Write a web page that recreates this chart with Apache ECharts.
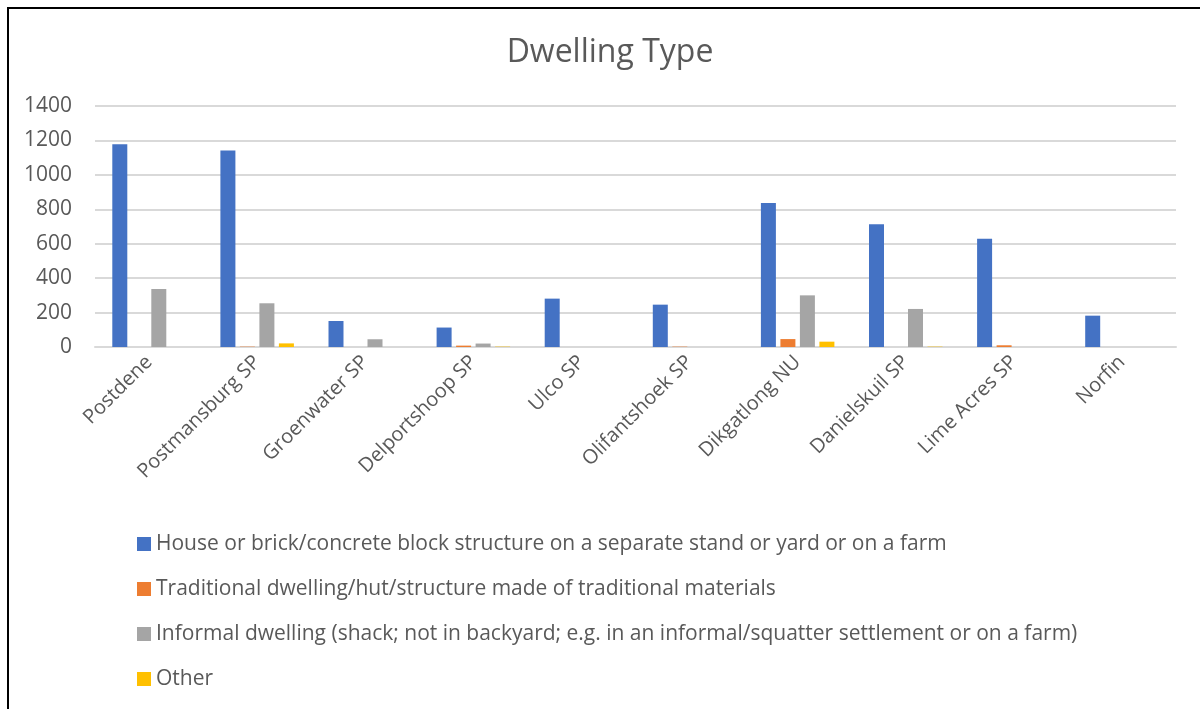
<!DOCTYPE html>
<html>
<head>
<meta charset="utf-8">
<script src="https://cdn.jsdelivr.net/npm/echarts@6/dist/echarts.min.js"></script>
<style>
  html, body { margin: 0; padding: 0; background: #fff; }
  #frame { position: absolute; left: 7px; top: 7px; width: 1300px; height: 800px;
           border-left: 2px solid #000; border-top: 2px solid #000; box-sizing: border-box; }
  #chart { position: absolute; left: 0; top: 0; width: 1200px; height: 709px; }
</style>
</head>
<body>
<div id="frame"></div>
<div id="chart"></div>
<script>
const categories = ['Postdene', 'Postmansburg SP', 'Groenwater SP', 'Delportshoop SP', 'Ulco SP',
  'Olifantshoek SP', 'Dikgatlong NU', 'Danielskuil SP', 'Lime Acres SP', 'Norfin'];

const seriesNames = [
  'House or brick/concrete block structure on a separate stand or yard or on a farm',
  'Traditional dwelling/hut/structure made of traditional materials',
  'Informal dwelling (shack; not in backyard; e.g. in an informal/squatter settlement or on a farm)',
  'Other'
];

const house       = [1178, 1141, 151, 113, 281, 246, 836, 713, 629, 182];
const traditional = [0, 2, 0, 8, 0, 2, 46, 0, 10, 0];
const informal    = [337, 254, 45, 20, 0, 0, 300, 221, 0, 0];
const other       = [0, 21, 0, 2, 0, 0, 31, 2, 0, 0];

const yTicks = [0, 200, 400, 600, 800, 1000, 1200, 1400];

const colors = ['#4472C4', '#ED7D31', '#A5A5A5', '#FFC000'];
const textColor = '#595959';
const font = 'Open Sans';

const chart = echarts.init(document.getElementById('chart'));
const values = [house, traditional, informal, other];

chart.setOption({
  animation: false,
  textStyle: { fontFamily: font },
  title: {
    text: 'Dwelling Type',
    left: 605, top: 32, textAlign: 'center',
    textStyle: { fontFamily: font, fontSize: 32, fontWeight: 'normal', color: textColor }
  },
  color: colors,
  legend: {
    orient: 'vertical',
    left: 132, top: 528,
    itemWidth: 14, itemHeight: 14, itemGap: 23,
    icon: 'rect',
    textStyle: { fontFamily: font, fontSize: 21, lineHeight: 22, color: textColor },
    data: seriesNames
  },
  grid: { left: 95, right: 24, top: 106, bottom: 362 },
  xAxis: {
    type: 'category',
    data: categories,
    axisLine: { lineStyle: { color: '#D9D9D9', width: 2 } },
    axisTick: { show: false },
    axisLabel: { rotate: 45, fontSize: 20, color: textColor, fontFamily: font, margin: 12, interval: 0 }
  },
  yAxis: {
    type: 'value',
    min: yTicks[0], max: yTicks[yTicks.length - 1], interval: 200,
    axisLine: { show: false },
    axisTick: { show: false },
    splitLine: { lineStyle: { color: '#D9D9D9', width: 2 } },
    axisLabel: { fontSize: 21, color: textColor, fontFamily: font, margin: 23,
                 formatter: v => String(v) }
  },
  series: seriesNames.map((name, i) => ({
    name,
    type: 'bar',
    data: values[i],
    barWidth: 15,
    barGap: '30%',
    itemStyle: { color: colors[i] }
  }))
});
</script>
</body>
</html>
